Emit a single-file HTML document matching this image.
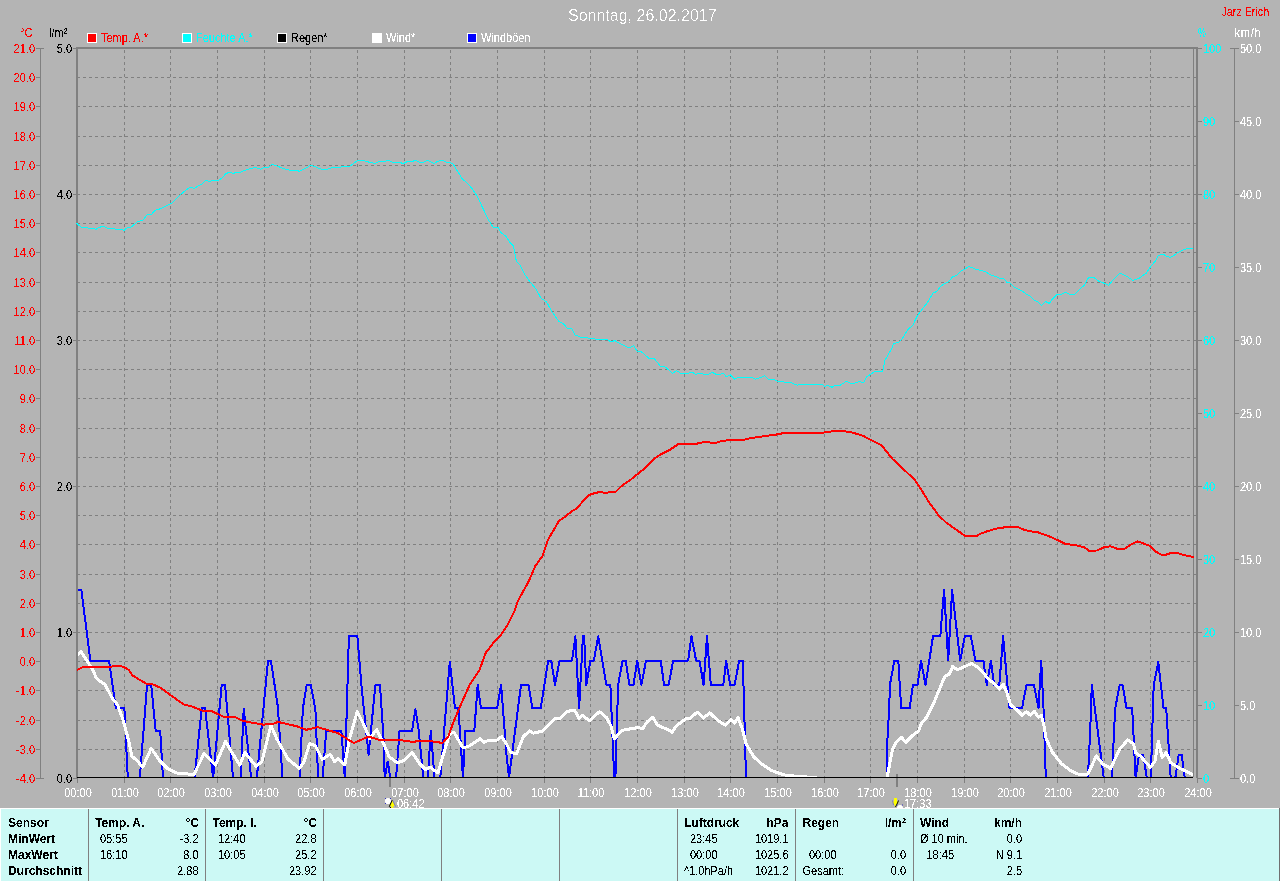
<!DOCTYPE html>
<html><head><meta charset="utf-8"><title>Sonntag, 26.02.2017</title>
<style>html,body{margin:0;padding:0;background:#b4b4b4;}body{width:1280px;height:881px;overflow:hidden;position:relative;}</style>
</head><body>
<svg width="1280" height="881" viewBox="0 0 1280 881" style="position:absolute;left:0;top:0" font-family="'Liberation Sans', Arial, sans-serif">
<rect x="0" y="0" width="1280" height="881" fill="#b4b4b4"/>
<g stroke="#808080" stroke-width="1" shape-rendering="crispEdges" fill="none">
<path d="M77 77.5H1196" stroke-dasharray="3 3"/>
<path d="M77 106.5H1196" stroke-dasharray="3 3"/>
<path d="M77 136.5H1196" stroke-dasharray="3 3"/>
<path d="M77 165.5H1196" stroke-dasharray="3 3"/>
<path d="M77 194.5H1196" stroke-dasharray="3 3"/>
<path d="M77 223.5H1196" stroke-dasharray="3 3"/>
<path d="M77 252.5H1196" stroke-dasharray="3 3"/>
<path d="M77 282.5H1196" stroke-dasharray="3 3"/>
<path d="M77 311.5H1196" stroke-dasharray="3 3"/>
<path d="M77 340.5H1196" stroke-dasharray="3 3"/>
<path d="M77 369.5H1196" stroke-dasharray="3 3"/>
<path d="M77 398.5H1196" stroke-dasharray="3 3"/>
<path d="M77 428.5H1196" stroke-dasharray="3 3"/>
<path d="M77 457.5H1196" stroke-dasharray="3 3"/>
<path d="M77 486.5H1196" stroke-dasharray="3 3"/>
<path d="M77 515.5H1196" stroke-dasharray="3 3"/>
<path d="M77 544.5H1196" stroke-dasharray="3 3"/>
<path d="M77 574.5H1196" stroke-dasharray="3 3"/>
<path d="M77 603.5H1196" stroke-dasharray="3 3"/>
<path d="M77 632.5H1196" stroke-dasharray="3 3"/>
<path d="M77 661.5H1196" stroke-dasharray="3 3"/>
<path d="M77 690.5H1196" stroke-dasharray="3 3"/>
<path d="M77 720.5H1196" stroke-dasharray="3 3"/>
<path d="M77 749.5H1196" stroke-dasharray="3 3"/>
<path d="M124.5 779V49" stroke-dasharray="3 3"/>
<path d="M170.5 779V49" stroke-dasharray="3 3"/>
<path d="M217.5 779V49" stroke-dasharray="3 3"/>
<path d="M264.5 779V49" stroke-dasharray="3 3"/>
<path d="M310.5 779V49" stroke-dasharray="3 3"/>
<path d="M357.5 779V49" stroke-dasharray="3 3"/>
<path d="M404.5 779V49" stroke-dasharray="3 3"/>
<path d="M450.5 779V49" stroke-dasharray="3 3"/>
<path d="M497.5 779V49" stroke-dasharray="3 3"/>
<path d="M544.5 779V49" stroke-dasharray="3 3"/>
<path d="M590.5 779V49" stroke-dasharray="3 3"/>
<path d="M637.5 779V49" stroke-dasharray="3 3"/>
<path d="M684.5 779V49" stroke-dasharray="3 3"/>
<path d="M730.5 779V49" stroke-dasharray="3 3"/>
<path d="M777.5 779V49" stroke-dasharray="3 3"/>
<path d="M824.5 779V49" stroke-dasharray="3 3"/>
<path d="M870.5 779V49" stroke-dasharray="3 3"/>
<path d="M917.5 779V49" stroke-dasharray="3 3"/>
<path d="M964.5 779V49" stroke-dasharray="3 3"/>
<path d="M1010.5 779V49" stroke-dasharray="3 3"/>
<path d="M1057.5 779V49" stroke-dasharray="3 3"/>
<path d="M1104.5 779V49" stroke-dasharray="3 3"/>
<path d="M1150.5 779V49" stroke-dasharray="3 3"/>
<path d="M77.5 778V783"/>
<path d="M124.5 778V783"/>
<path d="M170.5 778V783"/>
<path d="M217.5 778V783"/>
<path d="M264.5 778V783"/>
<path d="M310.5 778V783"/>
<path d="M357.5 778V783"/>
<path d="M404.5 778V783"/>
<path d="M450.5 778V783"/>
<path d="M497.5 778V783"/>
<path d="M544.5 778V783"/>
<path d="M590.5 778V783"/>
<path d="M637.5 778V783"/>
<path d="M684.5 778V783"/>
<path d="M730.5 778V783"/>
<path d="M777.5 778V783"/>
<path d="M824.5 778V783"/>
<path d="M870.5 778V783"/>
<path d="M917.5 778V783"/>
<path d="M964.5 778V783"/>
<path d="M1010.5 778V783"/>
<path d="M1057.5 778V783"/>
<path d="M1104.5 778V783"/>
<path d="M1150.5 778V783"/>
<path d="M1197.5 778V783"/>
</g>
<g stroke="#808080" fill="none" shape-rendering="crispEdges">
<path d="M40.5 48V779"/>
<path d="M36 48.5H44"/>
<path d="M36 77.5H41"/>
<path d="M36 106.5H41"/>
<path d="M36 136.5H41"/>
<path d="M36 165.5H41"/>
<path d="M36 194.5H41"/>
<path d="M36 223.5H41"/>
<path d="M36 252.5H41"/>
<path d="M36 282.5H41"/>
<path d="M36 311.5H41"/>
<path d="M36 340.5H41"/>
<path d="M36 369.5H41"/>
<path d="M36 398.5H41"/>
<path d="M36 428.5H41"/>
<path d="M36 457.5H41"/>
<path d="M36 486.5H41"/>
<path d="M36 515.5H41"/>
<path d="M36 544.5H41"/>
<path d="M36 574.5H41"/>
<path d="M36 603.5H41"/>
<path d="M36 632.5H41"/>
<path d="M36 661.5H41"/>
<path d="M36 690.5H41"/>
<path d="M36 720.5H41"/>
<path d="M36 749.5H41"/>
<path d="M36 778.5H44"/>
<path d="M73 48.5H77"/>
<path d="M73 194.5H77"/>
<path d="M73 340.5H77"/>
<path d="M73 486.5H77"/>
<path d="M73 632.5H77"/>
<path d="M73 778.5H77"/>
<path d="M1198 48.5H1202"/>
<path d="M1198 121.5H1202"/>
<path d="M1198 194.5H1202"/>
<path d="M1198 267.5H1202"/>
<path d="M1198 340.5H1202"/>
<path d="M1198 413.5H1202"/>
<path d="M1198 486.5H1202"/>
<path d="M1198 559.5H1202"/>
<path d="M1198 632.5H1202"/>
<path d="M1198 705.5H1202"/>
<path d="M1198 778.5H1202"/>
<path d="M1234.5 48V779"/>
<path d="M1230 48.5H1239"/>
<path d="M1234 121.5H1239"/>
<path d="M1234 194.5H1239"/>
<path d="M1234 267.5H1239"/>
<path d="M1234 340.5H1239"/>
<path d="M1234 413.5H1239"/>
<path d="M1234 486.5H1239"/>
<path d="M1234 559.5H1239"/>
<path d="M1234 632.5H1239"/>
<path d="M1234 705.5H1239"/>
<path d="M1230 778.5H1239"/>
<path d="M1193.5 49V777"/>
<path d="M76 47H1198V784" stroke-width="0"/>
</g>
<rect x="76" y="47" width="2" height="731" fill="#808080" shape-rendering="crispEdges"/>
<rect x="76" y="47" width="1122" height="2" fill="#808080" shape-rendering="crispEdges"/>
<rect x="1196" y="47" width="2" height="731" fill="#808080" shape-rendering="crispEdges"/>
<rect x="389" y="774" width="2" height="13" fill="#808080" shape-rendering="crispEdges"/>
<rect x="896" y="774" width="2" height="13" fill="#808080" shape-rendering="crispEdges"/>
<defs><clipPath id="pc"><rect x="78" y="49" width="1115" height="729"/></clipPath></defs>
<g fill="none" stroke-linejoin="round" stroke-linecap="round" clip-path="url(#pc)">
<polyline points="77.9,589.5 81.3,589.5 90.4,660.6 109.0,660.6 115.8,708.3 124.4,708.3 127.8,778.0 139.8,778.0 147.1,684.9 151.2,684.9 155.7,731.0 160.2,731.0 163.0,778.0 194.5,778.0 201.7,708.3 205.1,708.3 213.1,778.0 221.7,684.9 225.1,684.9 233.0,778.0 240.7,778.0 243.7,708.9 251.2,778.0 256.8,778.0 268.0,660.6 270.9,660.6 274.5,684.4 277.9,707.1 282.5,778.0 299.5,778.0 302.9,708.3 306.7,684.9 310.8,684.9 315.4,709.4 318.1,778.0 322.6,778.0 326.2,731.0 341.4,731.0 344.8,778.0 348.9,635.6 357.3,635.6 361.8,689.0 368.6,754.8 375.4,684.9 380.0,684.9 383.6,738.9 384.7,778.0 387.7,761.6 390.4,778.0 396.1,778.0 399.5,731.0 412.0,731.0 415.4,709.0 418.8,731.0 423.3,778.0 427.8,778.0 430.8,731.0 434.6,778.0 440.3,778.0 449.8,661.7 455.0,708.3 458.4,708.3 463.0,778.0 465.2,731.0 474.3,731.0 477.7,684.9 480.9,708.3 497.2,708.3 501.1,684.9 506.3,752.5 509.0,778.0 521.0,684.9 528.5,684.9 532.4,708.3 540.7,708.3 548.2,660.6 551.2,660.6 555.0,684.9 559.6,660.6 572.0,660.6 575.4,636.3 579.1,708.3 582.9,636.3 584.1,636.3 586.3,684.9 590.4,660.6 593.8,660.6 598.3,636.3 606.3,684.9 610.4,684.9 614.2,778.0 615.4,778.0 618.1,684.9 622.6,660.6 625.6,660.6 629.4,684.9 633.5,684.9 637.3,660.6 641.4,684.9 646.0,660.6 660.7,660.6 664.1,684.9 668.6,684.9 673.2,660.6 688.1,660.6 691.5,636.3 696.1,660.6 699.5,660.6 703.6,684.9 707.0,636.3 710.8,684.9 723.3,684.9 726.2,660.6 730.1,684.9 734.6,684.9 739.2,660.6 742.6,660.6 743.7,691.2 746.0,778.0 886.5,778.0 887.6,734.4 889.2,709.4 889.9,684.9 894.4,660.6 898.3,660.6 901.2,708.3 909.6,708.3 913.0,684.9 917.6,684.9 921.0,660.6 925.5,684.9 933.0,636.3 940.3,636.3 944.1,590.2 948.2,660.6 952.1,590.2 960.2,660.6 964.8,636.3 970.9,636.3 975.4,660.6 983.4,660.6 986.8,684.9 990.9,660.6 994.1,684.9 999.3,684.9 1003.1,636.3 1009.5,708.3 1022.0,708.3 1026.5,684.9 1034.0,684.9 1038.5,708.3 1041.2,660.6 1043.5,708.3 1045.8,778.0 1087.9,778.0 1090.2,731.0 1091.8,684.9 1103.8,778.0 1111.8,778.0 1115.2,708.3 1119.7,684.9 1122.6,684.9 1126.5,708.3 1132.2,708.3 1135.6,778.0 1139.0,754.8 1143.1,754.8 1146.9,778.0 1150.8,778.0 1153.7,684.9 1158.3,661.7 1163.5,708.3 1166.2,708.3 1170.7,778.0 1175.3,778.0 1178.7,754.8 1181.6,754.8 1184.8,778.0 1193.0,778.0" stroke="#0000ff" stroke-width="2" shape-rendering="crispEdges"/>
<polyline points="77.9,654.9 80.9,651.5 92.7,669.7 96.1,677.6 100.6,681.7 105.1,684.4 112.0,698.0 117.6,704.9 123.3,720.8 129.4,743.5 131.7,756.0 138.0,761.6 142.6,767.3 151.2,748.4 159.6,760.5 167.5,768.4 176.6,773.0 183.6,773.4 193.8,774.8 204.0,753.7 215.4,765.0 225.6,741.2 231.2,751.4 239.8,765.0 244.8,752.5 256.2,766.2 261.8,761.6 270.9,725.3 276.8,738.9 288.1,759.3 299.5,768.4 304.0,761.6 309.7,743.5 315.4,745.7 322.2,759.3 330.1,754.3 334.6,761.6 338.0,758.2 344.8,765.0 349.4,738.9 357.3,711.7 363.0,723.0 369.8,738.9 375.4,731.0 376.8,729.8 383.6,743.5 389.3,757.0 397.2,762.7 404.0,760.5 412.0,752.5 419.9,763.9 425.6,769.6 430.1,767.3 438.0,773.0 442.6,757.0 449.4,734.4 453.9,732.1 463.0,748.0 469.8,745.7 480.0,738.9 483.6,742.3 488.1,740.7 497.2,740.0 501.7,736.6 506.3,743.5 510.8,752.5 516.5,753.7 523.3,736.6 529.4,731.0 533.5,733.2 542.6,731.0 555.0,718.5 559.6,718.9 567.5,711.2 574.8,710.5 579.1,718.5 582.5,715.1 589.3,720.8 599.5,711.7 606.3,717.3 610.8,725.3 614.2,738.9 622.2,730.3 631.2,728.7 638.0,727.6 642.6,728.7 647.1,721.9 652.8,717.3 657.3,724.8 663.0,727.6 666.4,728.7 672.0,732.1 676.8,725.3 685.9,718.9 690.4,718.0 697.2,712.1 703.6,718.0 709.7,712.8 717.6,720.3 725.6,725.3 730.8,719.6 734.6,723.0 738.0,717.3 742.6,729.8 746.0,743.5 753.9,757.1 763.0,765.0 772.0,770.7 783.6,774.8 797.2,776.4 815.4,777.5 818.0,779.5 885.5,779.5 886.8,777.5 887.5,775.2 892.6,749.1 896.0,742.3 901.2,737.1 905.8,742.3 912.6,735.5 918.7,731.0 921.0,724.2 926.6,717.3 933.4,703.7 939.1,690.1 944.8,676.5 949.3,674.2 952.7,666.3 957.3,669.7 965.2,666.3 971.6,663.5 977.7,667.4 984.5,674.2 986.8,677.6 993.6,683.3 999.3,689.0 1003.4,684.4 1006.8,692.4 1010.6,704.9 1016.3,709.4 1022.0,715.1 1026.5,711.7 1030.3,715.1 1034.4,711.2 1038.5,717.3 1041.2,715.1 1043.9,725.3 1046.2,738.9 1052.6,752.5 1061.6,763.9 1070.7,770.7 1079.8,774.8 1087.9,774.1 1096.3,756.0 1102.7,763.9 1110.6,768.4 1119.7,749.1 1127.6,740.0 1133.3,743.5 1135.6,752.5 1141.3,757.0 1150.3,767.3 1154.9,761.6 1158.3,741.2 1162.2,757.5 1166.3,752.5 1170.7,762.7 1179.8,768.4 1193.4,774.8" stroke="#ffffff" stroke-width="3" shape-rendering="crispEdges"/>
</g>
<rect x="77" y="777" width="1116" height="1" fill="#000" shape-rendering="crispEdges"/>
<g fill="none" stroke-linejoin="round" stroke-linecap="round">
<polyline points="77.0,223.6 81.7,227.5 87.2,227.5 88.8,228.6 94.2,228.6 95.8,229.5 99.7,227.2 103.6,226.3 108.3,228.6 114.5,228.6 116.1,229.5 122.3,229.5 123.9,230.6 127.0,227.8 130.9,227.2 137.2,222.0 143.4,220.0 146.6,215.0 151.3,214.5 155.2,210.3 159.1,209.2 165.3,206.4 170.0,204.0 173.1,202.2 179.4,195.5 184.1,191.6 188.8,188.1 191.9,187.3 194.2,188.8 197.3,186.3 202.0,184.1 205.9,180.3 209.1,181.6 212.2,180.6 217.7,180.6 221.6,178.3 226.3,173.3 230.2,172.3 233.3,173.6 235.6,172.5 240.3,172.5 243.4,170.8 247.3,169.4 251.3,168.4 255.9,167.5 260.6,169.2 263.8,167.7 268.6,167.3 271.7,164.5 275.6,165.3 281.9,168.1 289.7,170.2 297.5,170.5 299.1,171.3 305.3,168.6 310.8,165.0 313.9,166.3 321.7,169.4 327.2,169.4 332.7,167.3 339.7,167.3 342.8,166.3 349.8,166.3 357.7,160.3 363.1,160.3 369.4,162.3 375.6,163.4 379.5,161.4 385.8,161.1 388.1,160.3 392.8,162.3 397.5,162.3 403.8,163.4 407.7,161.4 412.3,161.4 415.5,160.3 419.4,162.3 423.3,162.3 427.2,160.3 434.2,163.4 438.1,161.1 442.0,160.3 446.7,162.3 449.8,162.3 453.0,163.8 456.1,168.9 462.5,179.3 467.0,182.7 472.7,189.5 477.2,196.3 488.6,220.2 493.1,227.0 497.7,227.0 501.1,232.6 505.6,236.0 510.2,242.9 513.6,246.3 516.3,261.0 520.4,265.6 524.9,274.6 530.6,282.6 536.3,289.4 540.8,298.0 546.5,301.9 552.2,312.1 559.0,321.6 563.5,323.9 568.0,329.1 571.5,328.4 574.9,334.8 580.5,337.1 586.2,337.5 590.7,338.9 606.6,339.3 611.2,342.1 614.6,340.5 621.4,344.3 629.3,348.0 633.9,345.7 637.3,351.8 640.7,351.1 646.1,356.0 649.1,358.4 654.2,358.4 660.3,366.2 665.4,367.0 672.5,373.3 676.6,370.6 680.6,373.3 687.7,373.7 691.8,372.0 695.9,374.3 700.9,373.3 707.0,375.1 712.1,372.3 716.2,374.3 720.2,374.3 723.3,373.1 726.3,376.7 730.4,374.7 734.5,379.2 738.5,377.3 751.7,377.3 755.8,379.2 761.9,377.1 764.9,375.7 768.0,379.2 774.1,379.4 778.1,381.4 791.3,382.8 797.4,385.3 800.5,384.4 821.8,384.4 824.8,386.3 827.9,385.3 832.0,387.3 835.0,385.3 840.1,385.3 846.2,381.4 852.3,383.8 859.4,381.4 863.4,382.8 866.5,377.1 870.6,374.3 874.6,371.6 882.7,371.6 884.8,360.5 891.3,349.4 893.8,343.5 898.1,342.5 901.9,339.4 907.5,330.0 913.1,324.8 916.9,316.5 923.1,308.1 927.5,302.5 933.1,293.1 936.9,291.3 941.3,285.6 947.5,282.3 953.1,276.6 956.3,275.4 961.9,270.3 965.0,269.1 968.8,266.6 972.5,267.8 976.3,269.4 985.0,271.5 991.9,275.6 996.3,276.6 1000.0,278.5 1003.8,278.8 1006.9,282.3 1010.0,283.1 1014.4,287.3 1021.3,290.6 1026.9,294.4 1029.4,295.6 1034.4,300.3 1038.1,302.1 1041.5,305.3 1045.6,301.5 1049.4,303.5 1051.9,299.4 1056.9,294.4 1061.3,294.4 1065.0,292.3 1070.0,294.4 1074.4,294.4 1078.8,290.4 1085.0,284.4 1088.1,278.1 1091.3,277.3 1094.4,277.9 1098.8,281.3 1103.8,283.1 1108.5,285.4 1111.9,281.3 1120.0,273.1 1126.3,276.0 1133.1,280.6 1135.6,279.4 1139.4,278.1 1146.3,273.1 1150.0,267.5 1155.6,260.6 1158.1,255.6 1161.3,254.4 1163.8,254.6 1166.9,256.3 1170.0,257.3 1173.8,255.6 1177.5,252.8 1184.4,249.4 1187.5,248.5 1192.8,248.5" stroke="#00ffff" stroke-width="1" shape-rendering="crispEdges"/>
<polyline points="77.9,669.7 83.6,666.7 110.8,666.7 116.5,665.8 123.3,666.7 128.5,669.7 132.4,675.3 138.0,678.8 147.1,684.0 152.8,684.4 160.7,687.8 169.8,694.6 183.6,704.4 192.7,706.7 201.7,710.5 212.0,711.2 223.3,716.7 235.8,717.3 242.6,720.8 251.6,722.6 263.0,724.6 272.0,724.2 277.9,721.9 288.1,724.2 297.2,726.4 306.3,729.8 317.6,727.1 326.7,729.8 338.0,733.2 347.1,738.9 353.9,743.0 360.7,740.0 368.6,736.6 380.0,740.0 399.5,740.0 410.8,741.6 431.2,741.2 442.6,743.0 448.2,736.6 453.9,720.8 461.8,702.6 469.8,684.4 479.1,670.8 485.9,652.6 493.8,642.4 499.5,636.8 507.4,625.4 514.2,611.8 517.6,601.6 524.4,589.1 528.2,582.4 535.3,566.1 542.5,555.9 547.6,540.5 558.8,521.1 564.9,517.0 572.1,510.9 576.2,508.9 588.4,495.2 594.6,493.1 600.7,491.9 604.8,492.9 616.0,491.5 621.1,486.4 631.3,479.2 642.6,470.0 653.8,458.8 662.0,453.7 670.2,449.6 678.3,444.1 686.5,443.9 695.7,443.9 704.9,441.9 713.1,442.9 716.6,442.8 720.9,441.1 729.7,440.0 745.0,439.5 751.6,438.0 766.9,435.8 775.6,434.7 786.6,432.5 823.8,432.5 834.7,431.0 842.4,431.0 852.2,432.5 863.1,435.8 870.8,440.0 881.7,445.4 892.7,459.2 900.3,466.2 914.5,479.6 920.0,487.7 928.8,501.9 938.6,515.4 946.3,522.7 955.0,528.8 964.9,535.8 976.9,535.8 980.0,533.9 988.6,530.8 996.3,528.7 1006.6,527.0 1017.8,527.0 1022.1,529.1 1028.1,530.8 1038.4,532.5 1050.5,536.8 1065.1,543.7 1076.3,545.4 1084.0,547.1 1089.1,550.7 1096.9,550.5 1104.6,547.1 1110.6,546.3 1117.5,548.8 1124.4,548.8 1129.5,545.4 1137.3,541.4 1141.6,542.8 1149.3,545.7 1155.3,551.4 1161.3,554.8 1165.6,554.8 1170.8,553.1 1177.7,553.1 1182.8,554.8 1193.1,556.9" stroke="#ff0000" stroke-width="2" shape-rendering="crispEdges"/>
</g>
<rect x="87" y="33" width="10" height="10" fill="#ffffff" shape-rendering="crispEdges"/>
<rect x="88" y="34" width="8" height="8" fill="#ff0000" shape-rendering="crispEdges"/>
<rect x="182" y="33" width="10" height="10" fill="#ffffff" shape-rendering="crispEdges"/>
<rect x="183" y="34" width="8" height="8" fill="#00ffff" shape-rendering="crispEdges"/>
<rect x="277" y="33" width="10" height="10" fill="#ffffff" shape-rendering="crispEdges"/>
<rect x="278" y="34" width="8" height="8" fill="#000000" shape-rendering="crispEdges"/>
<rect x="372" y="33" width="10" height="10" fill="#ffffff" shape-rendering="crispEdges"/>
<rect x="373" y="34" width="8" height="8" fill="#ffffff" shape-rendering="crispEdges"/>
<rect x="467" y="33" width="10" height="10" fill="#ffffff" shape-rendering="crispEdges"/>
<rect x="468" y="34" width="8" height="8" fill="#0000ff" shape-rendering="crispEdges"/>
<circle cx="388" cy="801" r="3.1" fill="#ffffff"/>
<rect x="385.0" y="798.0" width="1" height="1" fill="#3030c0"/>
<rect x="390.0" y="798.0" width="1" height="1" fill="#3030c0"/>
<rect x="385.0" y="803.0" width="1" height="1" fill="#3030c0"/>
<rect x="390.0" y="803.0" width="1" height="1" fill="#3030c0"/>
<path d="M392.3 800 L395.3 806 L393.3 806 L393.3 808 L391.3 808 L391.3 806 L389.3 806 Z" fill="#ffff00"/>
<path d="M392.3 800 L389.3 806.5 L391 808" fill="none" stroke="#000" stroke-width="1"/>
<path d="M392.8 800.5 L395.5 806.5" fill="none" stroke="#6060d0" stroke-width="0.8"/>
<path d="M895.5 807 L898.8 801.5 L897 801.5 L897 798 L894 798 L894 801.5 L892.2 801.5 Z" fill="#ffff00"/>
<path d="M898.5 800.5 L897.5 803 L895.5 807" fill="none" stroke="#000" stroke-width="1"/>
<path d="M892.5 800.5 L893.5 805" fill="none" stroke="#6060d0" stroke-width="0.8"/>
<circle cx="900" cy="808" r="3" fill="#ffffff"/>
<rect x="896.5" y="804.5" width="1" height="1" fill="#3030c0"/>
<rect x="902" y="804.5" width="1" height="1" fill="#3030c0"/>
<rect x="0" y="808" width="1279" height="73" fill="#ffffff" shape-rendering="crispEdges"/>
<rect x="1" y="809" width="1278" height="72" fill="#ccf9f5" shape-rendering="crispEdges"/>
<rect x="1279" y="808" width="1" height="73" fill="#707070" shape-rendering="crispEdges"/>
<rect x="88" y="809" width="1" height="72" fill="#808080" shape-rendering="crispEdges"/>
<rect x="205" y="809" width="1" height="72" fill="#808080" shape-rendering="crispEdges"/>
<rect x="323" y="809" width="1" height="72" fill="#808080" shape-rendering="crispEdges"/>
<rect x="441" y="809" width="1" height="72" fill="#808080" shape-rendering="crispEdges"/>
<rect x="559" y="809" width="1" height="72" fill="#808080" shape-rendering="crispEdges"/>
<rect x="677" y="809" width="1" height="72" fill="#808080" shape-rendering="crispEdges"/>
<rect x="795" y="809" width="1" height="72" fill="#808080" shape-rendering="crispEdges"/>
<rect x="913" y="809" width="1" height="72" fill="#808080" shape-rendering="crispEdges"/>
<defs><filter id="crisp" filterUnits="userSpaceOnUse" x="0" y="0" width="1280" height="881"><feComponentTransfer><feFuncA type="discrete" tableValues="0 0 0 0 0 0 0 0 0 1 1 1 1 1 1 1 1 1 1 1"/></feComponentTransfer></filter></defs>
<defs><filter id="crispT" filterUnits="userSpaceOnUse" x="0" y="0" width="1280" height="881"><feComponentTransfer><feFuncA type="discrete" tableValues="0 0 0 0 0 0 0 0 0 0 0 0 0 1 1 1 1 1 1 1"/></feComponentTransfer></filter></defs>
<g filter="url(#crispT)"><text transform="translate(568,21)" font-size="16" fill="#ffffff">Sonntag, 26.02.2017</text></g>
<g filter="url(#crisp)">
<text transform="translate(35,53) scale(1.0,1.13)" font-size="11" font-weight="normal" fill="#ff0000" text-anchor="end">21.0</text>
<text transform="translate(35,82) scale(1.0,1.13)" font-size="11" font-weight="normal" fill="#ff0000" text-anchor="end">20.0</text>
<text transform="translate(35,111) scale(1.0,1.13)" font-size="11" font-weight="normal" fill="#ff0000" text-anchor="end">19.0</text>
<text transform="translate(35,141) scale(1.0,1.13)" font-size="11" font-weight="normal" fill="#ff0000" text-anchor="end">18.0</text>
<text transform="translate(35,170) scale(1.0,1.13)" font-size="11" font-weight="normal" fill="#ff0000" text-anchor="end">17.0</text>
<text transform="translate(35,199) scale(1.0,1.13)" font-size="11" font-weight="normal" fill="#ff0000" text-anchor="end">16.0</text>
<text transform="translate(35,228) scale(1.0,1.13)" font-size="11" font-weight="normal" fill="#ff0000" text-anchor="end">15.0</text>
<text transform="translate(35,257) scale(1.0,1.13)" font-size="11" font-weight="normal" fill="#ff0000" text-anchor="end">14.0</text>
<text transform="translate(35,287) scale(1.0,1.13)" font-size="11" font-weight="normal" fill="#ff0000" text-anchor="end">13.0</text>
<text transform="translate(35,316) scale(1.0,1.13)" font-size="11" font-weight="normal" fill="#ff0000" text-anchor="end">12.0</text>
<text transform="translate(35,345) scale(1.0,1.13)" font-size="11" font-weight="normal" fill="#ff0000" text-anchor="end">11.0</text>
<text transform="translate(35,374) scale(1.0,1.13)" font-size="11" font-weight="normal" fill="#ff0000" text-anchor="end">10.0</text>
<text transform="translate(35,403) scale(1.0,1.13)" font-size="11" font-weight="normal" fill="#ff0000" text-anchor="end">9.0</text>
<text transform="translate(35,433) scale(1.0,1.13)" font-size="11" font-weight="normal" fill="#ff0000" text-anchor="end">8.0</text>
<text transform="translate(35,462) scale(1.0,1.13)" font-size="11" font-weight="normal" fill="#ff0000" text-anchor="end">7.0</text>
<text transform="translate(35,491) scale(1.0,1.13)" font-size="11" font-weight="normal" fill="#ff0000" text-anchor="end">6.0</text>
<text transform="translate(35,520) scale(1.0,1.13)" font-size="11" font-weight="normal" fill="#ff0000" text-anchor="end">5.0</text>
<text transform="translate(35,549) scale(1.0,1.13)" font-size="11" font-weight="normal" fill="#ff0000" text-anchor="end">4.0</text>
<text transform="translate(35,579) scale(1.0,1.13)" font-size="11" font-weight="normal" fill="#ff0000" text-anchor="end">3.0</text>
<text transform="translate(35,608) scale(1.0,1.13)" font-size="11" font-weight="normal" fill="#ff0000" text-anchor="end">2.0</text>
<text transform="translate(35,637) scale(1.0,1.13)" font-size="11" font-weight="normal" fill="#ff0000" text-anchor="end">1.0</text>
<text transform="translate(35,666) scale(1.0,1.13)" font-size="11" font-weight="normal" fill="#ff0000" text-anchor="end">0.0</text>
<text transform="translate(35,695) scale(1.0,1.13)" font-size="11" font-weight="normal" fill="#ff0000" text-anchor="end">-1.0</text>
<text transform="translate(35,725) scale(1.0,1.13)" font-size="11" font-weight="normal" fill="#ff0000" text-anchor="end">-2.0</text>
<text transform="translate(35,754) scale(1.0,1.13)" font-size="11" font-weight="normal" fill="#ff0000" text-anchor="end">-3.0</text>
<text transform="translate(35,783) scale(1.0,1.13)" font-size="11" font-weight="normal" fill="#ff0000" text-anchor="end">-4.0</text>
<text transform="translate(72,53) scale(1.0,1.13)" font-size="11" font-weight="normal" fill="#000000" text-anchor="end">5.0</text>
<text transform="translate(72,199) scale(1.0,1.13)" font-size="11" font-weight="normal" fill="#000000" text-anchor="end">4.0</text>
<text transform="translate(72,345) scale(1.0,1.13)" font-size="11" font-weight="normal" fill="#000000" text-anchor="end">3.0</text>
<text transform="translate(72,491) scale(1.0,1.13)" font-size="11" font-weight="normal" fill="#000000" text-anchor="end">2.0</text>
<text transform="translate(72,637) scale(1.0,1.13)" font-size="11" font-weight="normal" fill="#000000" text-anchor="end">1.0</text>
<text transform="translate(72,783) scale(1.0,1.13)" font-size="11" font-weight="normal" fill="#000000" text-anchor="end">0.0</text>
<text transform="translate(1203,53) scale(1.0,1.13)" font-size="11" font-weight="normal" fill="#00ffff" text-anchor="start">100</text>
<text transform="translate(1240,53) scale(1.0,1.13)" font-size="11" font-weight="normal" fill="#ffffff" text-anchor="start">50.0</text>
<text transform="translate(1203,126) scale(1.0,1.13)" font-size="11" font-weight="normal" fill="#00ffff" text-anchor="start">90</text>
<text transform="translate(1240,126) scale(1.0,1.13)" font-size="11" font-weight="normal" fill="#ffffff" text-anchor="start">45.0</text>
<text transform="translate(1203,199) scale(1.0,1.13)" font-size="11" font-weight="normal" fill="#00ffff" text-anchor="start">80</text>
<text transform="translate(1240,199) scale(1.0,1.13)" font-size="11" font-weight="normal" fill="#ffffff" text-anchor="start">40.0</text>
<text transform="translate(1203,272) scale(1.0,1.13)" font-size="11" font-weight="normal" fill="#00ffff" text-anchor="start">70</text>
<text transform="translate(1240,272) scale(1.0,1.13)" font-size="11" font-weight="normal" fill="#ffffff" text-anchor="start">35.0</text>
<text transform="translate(1203,345) scale(1.0,1.13)" font-size="11" font-weight="normal" fill="#00ffff" text-anchor="start">60</text>
<text transform="translate(1240,345) scale(1.0,1.13)" font-size="11" font-weight="normal" fill="#ffffff" text-anchor="start">30.0</text>
<text transform="translate(1203,418) scale(1.0,1.13)" font-size="11" font-weight="normal" fill="#00ffff" text-anchor="start">50</text>
<text transform="translate(1240,418) scale(1.0,1.13)" font-size="11" font-weight="normal" fill="#ffffff" text-anchor="start">25.0</text>
<text transform="translate(1203,491) scale(1.0,1.13)" font-size="11" font-weight="normal" fill="#00ffff" text-anchor="start">40</text>
<text transform="translate(1240,491) scale(1.0,1.13)" font-size="11" font-weight="normal" fill="#ffffff" text-anchor="start">20.0</text>
<text transform="translate(1203,564) scale(1.0,1.13)" font-size="11" font-weight="normal" fill="#00ffff" text-anchor="start">30</text>
<text transform="translate(1240,564) scale(1.0,1.13)" font-size="11" font-weight="normal" fill="#ffffff" text-anchor="start">15.0</text>
<text transform="translate(1203,637) scale(1.0,1.13)" font-size="11" font-weight="normal" fill="#00ffff" text-anchor="start">20</text>
<text transform="translate(1240,637) scale(1.0,1.13)" font-size="11" font-weight="normal" fill="#ffffff" text-anchor="start">10.0</text>
<text transform="translate(1203,710) scale(1.0,1.13)" font-size="11" font-weight="normal" fill="#00ffff" text-anchor="start">10</text>
<text transform="translate(1240,710) scale(1.0,1.13)" font-size="11" font-weight="normal" fill="#ffffff" text-anchor="start">5.0</text>
<text transform="translate(1203,783) scale(1.0,1.13)" font-size="11" font-weight="normal" fill="#00ffff" text-anchor="start">0</text>
<text transform="translate(1240,783) scale(1.0,1.13)" font-size="11" font-weight="normal" fill="#ffffff" text-anchor="start">0.0</text>
<text transform="translate(20,37) scale(1.0,1.13)" font-size="11" font-weight="normal" fill="#ff0000" text-anchor="start">°C</text>
<text transform="translate(49,37) scale(1.0,1.13)" font-size="11" font-weight="normal" fill="#000000" text-anchor="start">l/m²</text>
<text transform="translate(1198,37) scale(0.8,1.13)" font-size="11" font-weight="normal" fill="#00ffff" text-anchor="start">%</text>
<text transform="translate(1234.5,37) scale(1.0,1.13)" font-size="11" font-weight="normal" fill="#ffffff" text-anchor="start" letter-spacing="0.8">km/h</text>
<text transform="translate(78,797) scale(1.0,1.13)" font-size="11" font-weight="normal" fill="#ffffff" text-anchor="middle">00:00</text>
<text transform="translate(125,797) scale(1.0,1.13)" font-size="11" font-weight="normal" fill="#ffffff" text-anchor="middle">01:00</text>
<text transform="translate(171,797) scale(1.0,1.13)" font-size="11" font-weight="normal" fill="#ffffff" text-anchor="middle">02:00</text>
<text transform="translate(218,797) scale(1.0,1.13)" font-size="11" font-weight="normal" fill="#ffffff" text-anchor="middle">03:00</text>
<text transform="translate(265,797) scale(1.0,1.13)" font-size="11" font-weight="normal" fill="#ffffff" text-anchor="middle">04:00</text>
<text transform="translate(311,797) scale(1.0,1.13)" font-size="11" font-weight="normal" fill="#ffffff" text-anchor="middle">05:00</text>
<text transform="translate(358,797) scale(1.0,1.13)" font-size="11" font-weight="normal" fill="#ffffff" text-anchor="middle">06:00</text>
<text transform="translate(405,797) scale(1.0,1.13)" font-size="11" font-weight="normal" fill="#ffffff" text-anchor="middle">07:00</text>
<text transform="translate(451,797) scale(1.0,1.13)" font-size="11" font-weight="normal" fill="#ffffff" text-anchor="middle">08:00</text>
<text transform="translate(498,797) scale(1.0,1.13)" font-size="11" font-weight="normal" fill="#ffffff" text-anchor="middle">09:00</text>
<text transform="translate(545,797) scale(1.0,1.13)" font-size="11" font-weight="normal" fill="#ffffff" text-anchor="middle">10:00</text>
<text transform="translate(591,797) scale(1.0,1.13)" font-size="11" font-weight="normal" fill="#ffffff" text-anchor="middle">11:00</text>
<text transform="translate(638,797) scale(1.0,1.13)" font-size="11" font-weight="normal" fill="#ffffff" text-anchor="middle">12:00</text>
<text transform="translate(685,797) scale(1.0,1.13)" font-size="11" font-weight="normal" fill="#ffffff" text-anchor="middle">13:00</text>
<text transform="translate(731,797) scale(1.0,1.13)" font-size="11" font-weight="normal" fill="#ffffff" text-anchor="middle">14:00</text>
<text transform="translate(778,797) scale(1.0,1.13)" font-size="11" font-weight="normal" fill="#ffffff" text-anchor="middle">15:00</text>
<text transform="translate(825,797) scale(1.0,1.13)" font-size="11" font-weight="normal" fill="#ffffff" text-anchor="middle">16:00</text>
<text transform="translate(871,797) scale(1.0,1.13)" font-size="11" font-weight="normal" fill="#ffffff" text-anchor="middle">17:00</text>
<text transform="translate(918,797) scale(1.0,1.13)" font-size="11" font-weight="normal" fill="#ffffff" text-anchor="middle">18:00</text>
<text transform="translate(965,797) scale(1.0,1.13)" font-size="11" font-weight="normal" fill="#ffffff" text-anchor="middle">19:00</text>
<text transform="translate(1011,797) scale(1.0,1.13)" font-size="11" font-weight="normal" fill="#ffffff" text-anchor="middle">20:00</text>
<text transform="translate(1058,797) scale(1.0,1.13)" font-size="11" font-weight="normal" fill="#ffffff" text-anchor="middle">21:00</text>
<text transform="translate(1105,797) scale(1.0,1.13)" font-size="11" font-weight="normal" fill="#ffffff" text-anchor="middle">22:00</text>
<text transform="translate(1151,797) scale(1.0,1.13)" font-size="11" font-weight="normal" fill="#ffffff" text-anchor="middle">23:00</text>
<text transform="translate(1198,797) scale(1.0,1.13)" font-size="11" font-weight="normal" fill="#ffffff" text-anchor="middle">24:00</text>
<text transform="translate(101,42) scale(1.0,1.13)" font-size="11" font-weight="normal" fill="#ff0000" text-anchor="start">Temp. A.*</text>
<text transform="translate(196,42) scale(1.0,1.13)" font-size="11" font-weight="normal" fill="#00ffff" text-anchor="start">Feuchte A.*</text>
<text transform="translate(291,42) scale(1.0,1.13)" font-size="11" font-weight="normal" fill="#000000" text-anchor="start">Regen*</text>
<text transform="translate(386,42) scale(1.0,1.13)" font-size="11" font-weight="normal" fill="#ffffff" text-anchor="start">Wind*</text>
<text transform="translate(481,42) scale(1.0,1.13)" font-size="11" font-weight="normal" fill="#ffffff" text-anchor="start">Windböen</text>
<text transform="translate(1221.5,16) scale(0.975,1.13)" font-size="11" font-weight="normal" fill="#ff0000" text-anchor="start">Jarz Erich</text>
<text transform="translate(397,808) scale(1.0,1.13)" font-size="11" font-weight="normal" fill="#ffffff" text-anchor="start">06:42</text>
<text transform="translate(904,808) scale(1.0,1.13)" font-size="11" font-weight="normal" fill="#ffffff" text-anchor="start">17:33</text>
<text transform="translate(8,827) scale(1.0,1.04)" font-size="12" font-weight="bold" fill="#000000" text-anchor="start">Sensor</text>
<text transform="translate(8,843) scale(1.0,1.04)" font-size="12" font-weight="bold" fill="#000000" text-anchor="start">MinWert</text>
<text transform="translate(8,859) scale(1.0,1.04)" font-size="12" font-weight="bold" fill="#000000" text-anchor="start">MaxWert</text>
<text transform="translate(8,875) scale(1.0,1.04)" font-size="12" font-weight="bold" fill="#000000" text-anchor="start">Durchschnitt</text>
<text transform="translate(95,827) scale(1.0,1.04)" font-size="12" font-weight="bold" fill="#000000" text-anchor="start">Temp. A.</text>
<text transform="translate(199,827) scale(1.0,1.04)" font-size="12" font-weight="bold" fill="#000000" text-anchor="end">°C</text>
<text transform="translate(100,843) scale(1.0,1.13)" font-size="11" font-weight="normal" fill="#000000" text-anchor="start">05:55</text>
<text transform="translate(198.5,843) scale(1.0,1.13)" font-size="11" font-weight="normal" fill="#000000" text-anchor="end">-3.2</text>
<text transform="translate(100,859) scale(1.0,1.13)" font-size="11" font-weight="normal" fill="#000000" text-anchor="start">16:10</text>
<text transform="translate(198.5,859) scale(1.0,1.13)" font-size="11" font-weight="normal" fill="#000000" text-anchor="end">8.0</text>
<text transform="translate(198.5,875) scale(1.0,1.13)" font-size="11" font-weight="normal" fill="#000000" text-anchor="end">2.88</text>
<text transform="translate(212.5,827) scale(1.0,1.04)" font-size="12" font-weight="bold" fill="#000000" text-anchor="start">Temp. I.</text>
<text transform="translate(317,827) scale(1.0,1.04)" font-size="12" font-weight="bold" fill="#000000" text-anchor="end">°C</text>
<text transform="translate(218,843) scale(1.0,1.13)" font-size="11" font-weight="normal" fill="#000000" text-anchor="start">12:40</text>
<text transform="translate(316.5,843) scale(1.0,1.13)" font-size="11" font-weight="normal" fill="#000000" text-anchor="end">22.8</text>
<text transform="translate(218,859) scale(1.0,1.13)" font-size="11" font-weight="normal" fill="#000000" text-anchor="start">10:05</text>
<text transform="translate(316.5,859) scale(1.0,1.13)" font-size="11" font-weight="normal" fill="#000000" text-anchor="end">25.2</text>
<text transform="translate(316.5,875) scale(1.0,1.13)" font-size="11" font-weight="normal" fill="#000000" text-anchor="end">23.92</text>
<text transform="translate(684,827) scale(1.0,1.04)" font-size="12" font-weight="bold" fill="#000000" text-anchor="start">Luftdruck</text>
<text transform="translate(788.5,827) scale(1.0,1.04)" font-size="12" font-weight="bold" fill="#000000" text-anchor="end">hPa</text>
<text transform="translate(690,843) scale(1.0,1.13)" font-size="11" font-weight="normal" fill="#000000" text-anchor="start">23:45</text>
<text transform="translate(788.5,843) scale(1.0,1.13)" font-size="11" font-weight="normal" fill="#000000" text-anchor="end">1019.1</text>
<text transform="translate(690,859) scale(1.0,1.13)" font-size="11" font-weight="normal" fill="#000000" text-anchor="start">00:00</text>
<text transform="translate(788.5,859) scale(1.0,1.13)" font-size="11" font-weight="normal" fill="#000000" text-anchor="end">1025.6</text>
<text transform="translate(684,875) scale(1.0,1.13)" font-size="11" font-weight="normal" fill="#000000" text-anchor="start">^1.0hPa/h</text>
<text transform="translate(788.5,875) scale(1.0,1.13)" font-size="11" font-weight="normal" fill="#000000" text-anchor="end">1021.2</text>
<text transform="translate(802.5,827) scale(1.0,1.04)" font-size="12" font-weight="bold" fill="#000000" text-anchor="start">Regen</text>
<text transform="translate(906,827) scale(1.0,1.04)" font-size="12" font-weight="bold" fill="#000000" text-anchor="end">l/m²</text>
<text transform="translate(809,859) scale(1.0,1.13)" font-size="11" font-weight="normal" fill="#000000" text-anchor="start">00:00</text>
<text transform="translate(906,859) scale(1.0,1.13)" font-size="11" font-weight="normal" fill="#000000" text-anchor="end">0.0</text>
<text transform="translate(802.5,875) scale(1.0,1.13)" font-size="11" font-weight="normal" fill="#000000" text-anchor="start">Gesamt:</text>
<text transform="translate(906,875) scale(1.0,1.13)" font-size="11" font-weight="normal" fill="#000000" text-anchor="end">0.0</text>
<text transform="translate(920,827) scale(1.0,1.04)" font-size="12" font-weight="bold" fill="#000000" text-anchor="start">Wind</text>
<text transform="translate(1022,827) scale(1.0,1.04)" font-size="12" font-weight="bold" fill="#000000" text-anchor="end">km/h</text>
<text transform="translate(920,843) scale(1.0,1.13)" font-size="11" font-weight="normal" fill="#000000" text-anchor="start">Ø 10 min.</text>
<text transform="translate(1022,843) scale(1.0,1.13)" font-size="11" font-weight="normal" fill="#000000" text-anchor="end">0.0</text>
<text transform="translate(926.5,859) scale(1.0,1.13)" font-size="11" font-weight="normal" fill="#000000" text-anchor="start">18:45</text>
<text transform="translate(1022,859) scale(1.0,1.13)" font-size="11" font-weight="normal" fill="#000000" text-anchor="end">N 9.1</text>
<text transform="translate(1022,875) scale(1.0,1.13)" font-size="11" font-weight="normal" fill="#000000" text-anchor="end">2.5</text>
</g>
</svg>
</body></html>
